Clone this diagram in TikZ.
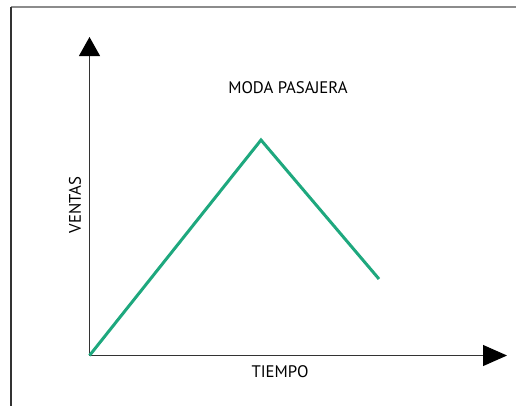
\documentclass[tikz,border=0pt]{standalone}
\usepackage{fontspec}
\setmainfont{PT Sans}
\usetikzlibrary{arrows.meta}
\definecolor{fadgreen}{RGB}{30,168,126}
\begin{document}
\begin{tikzpicture}[x=1bp,y=-1bp]
   \tikzstyle{axis}=[draw=black!80,line width=1bp]
   \tikzstyle{label}=[font=\fontsize{16.8}{19}\selectfont,inner sep=0pt]
   \tikzstyle{curve}=[draw=fadgreen,line width=3bp,line join=miter]
   \useasboundingbox (0,0) rectangle (516,406);
   % frame
   \draw [black!45,line width=1.6bp] (11,7) -- (516,7);
   \draw [black!80,line width=1.3bp] (11,7) -- (11,406);
   % axes
   \coordinate (origin) at (89.5,355.5);
   \coordinate (ytop) at (89.5,37);
   \coordinate (xend) at (507,355.5);
   \path [axis,-{Triangle[width=21bp,length=19bp,color=black]}] (origin) -- (ytop);
   \path [axis,-{Triangle[width=21bp,length=24bp,color=black]}] (origin) -- (xend);
   \node (title) [label] at (288,88) {MODA PASAJERA};
   \node (ventas) [label,rotate=90] at (75,205) {VENTAS};
   \node (tiempo) [label] at (280,372) {TIEMPO};
   % sales curve
   \coordinate (peak) at (261,140);
   \coordinate (fall) at (379,279);
   \path [curve] (origin) -- (peak) -- (fall);
\end{tikzpicture}
\end{document}
